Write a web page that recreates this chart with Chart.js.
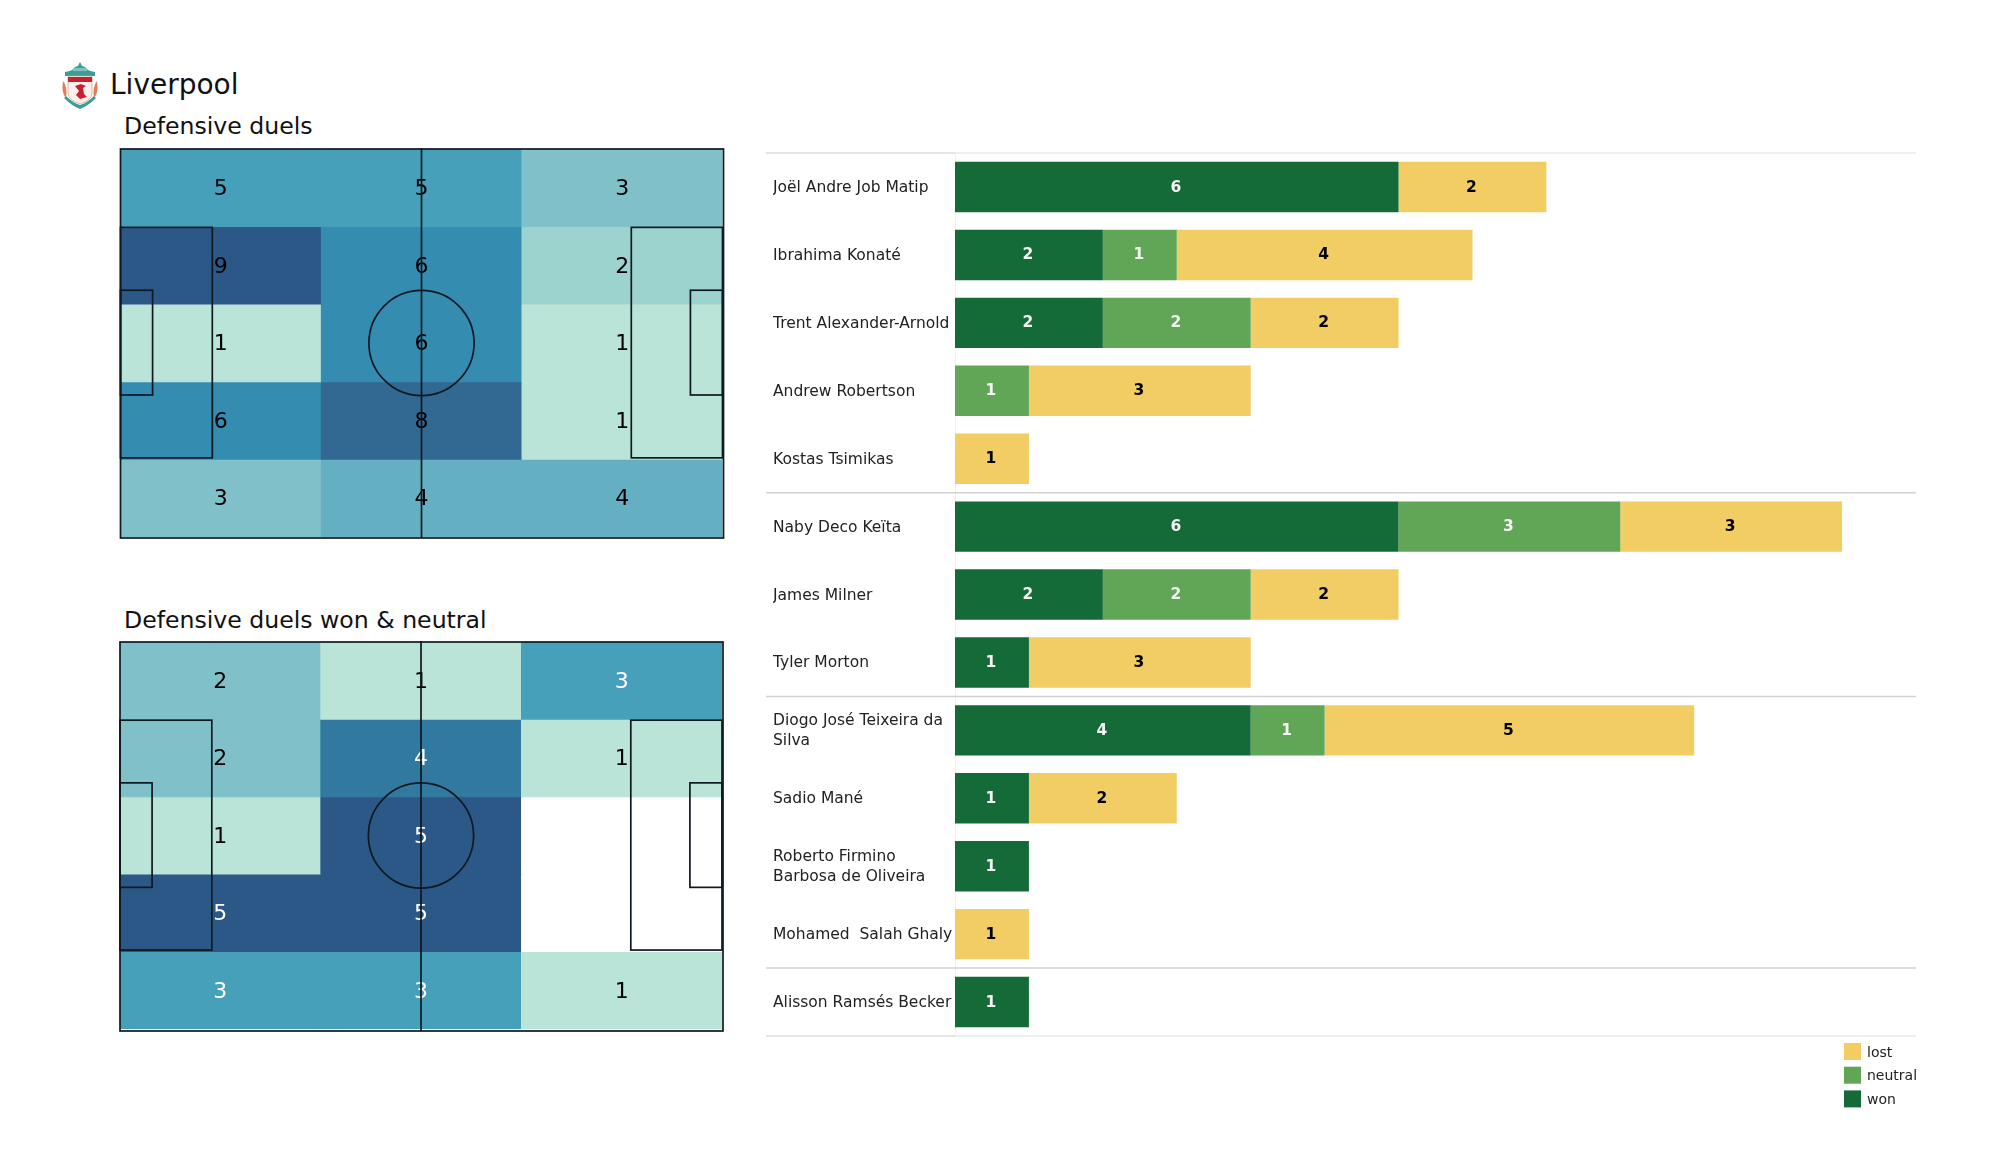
<!DOCTYPE html>
<html>
<head>
<meta charset="utf-8">
<title>Liverpool defensive duels</title>
<script src="https://cdn.jsdelivr.net/npm/chart.js@4"></script>
<style>
   html, body { margin: 0; padding: 0; background: #fff; }
   body { position: relative; width: 2000px; height: 1175px; overflow: hidden; font-family: "DejaVu Sans", sans-serif; color: #111; }
   canvas { position: absolute; }
   .txt { position: absolute; white-space: nowrap; line-height: 1; }
   #crest { position: absolute; left: 61px; top: 61px; }
</style>
</head>
<body>
<svg id="crest" width="38" height="49" viewBox="0 0 38 49">
   <path d="M4 15 L4 11 Q12 10 14 6 L17 5 L19 1 L21 5 L24 6 Q26 10 34 11 L34 15 Z" fill="#3a9d96"/>
   <rect x="12" y="7" width="14" height="3" fill="#7fc4bd"/>
   <path d="M2 20 Q7 26 5 37 Q0 32 2 20 Z" fill="#df7f5a"/>
   <path d="M36 20 Q31 26 33 37 Q38 32 36 20 Z" fill="#df7f5a"/>
   <path d="M7 15 H31 V32 Q31 39 19 43 Q7 39 7 32 Z" fill="#fbf1ec" stroke="#c8a27a" stroke-width="0.7"/>
   <rect x="7" y="16" width="24" height="5" fill="#c8202f"/>
   <path d="M14 25 L20 23 L25 25 L22 27 L23 33 L26 36 L19 38 L15 34 L18 30 Z" fill="#c8202f"/>
   <path d="M3 37 Q11 45 19 48 Q27 45 35 37 L33 35 Q26 42 19 44 Q12 42 5 35 Z" fill="#3a9d96"/>
</svg>
<div class="txt" style="left:110px;top:71px;font-size:28px">Liverpool</div>
<div class="txt" style="left:124px;top:115px;font-size:23.6px">Defensive duels</div>
<div class="txt" style="left:124px;top:609px;font-size:23.6px">Defensive duels won &amp; neutral</div>

<canvas id="pitchAll" width="640" height="410" style="left:100px;top:140px"></canvas>
<canvas id="pitchWon" width="640" height="410" style="left:100px;top:632px"></canvas>
<canvas id="bars" width="1240" height="1000" style="left:760px;top:140px"></canvas>

<script>
const zones = ['left', 'centre', 'right'];

// rows run from the top of the pitch to the bottom
const duelsAll = [
   [5, 5, 3],
   [9, 6, 2],
   [1, 6, 1],
   [6, 8, 1],
   [3, 4, 4]
];
const duelsWonNeutral = [
   [2, 1, 3],
   [2, 4, 1],
   [1, 5, 0],
   [5, 5, 0],
   [3, 3, 1]
];

const players = [
   'Joël Andre Job Matip',
   'Ibrahima Konaté',
   'Trent Alexander-Arnold',
   'Andrew Robertson',
   'Kostas Tsimikas',
   'Naby Deco Keïta',
   'James Milner',
   'Tyler Morton',
   ['Diogo José Teixeira da', 'Silva'],
   'Sadio Mané',
   ['Roberto Firmino', 'Barbosa de Oliveira'],
   'Mohamed  Salah Ghaly',
   'Alisson Ramsés Becker'
];
const won     = [6, 2, 2, 0, 0, 6, 2, 1, 4, 1, 1, 0, 1];
const neutral = [0, 1, 2, 1, 0, 3, 2, 0, 1, 0, 0, 0, 0];
const lost    = [2, 4, 2, 3, 1, 3, 2, 3, 5, 2, 0, 1, 0];

// row boundaries that get a rule: top, defenders, midfield, attack, keeper
const groupEdges = [0, 5, 8, 12, 13];

const WON_COLOR = '#156b38';
const NEUTRAL_COLOR = '#60a656';
const LOST_COLOR = '#f1cd64';
const FONT = '"DejaVu Sans", sans-serif';

const heatStops = ['#bbe4d9', '#9dd3ce', '#80c1c9', '#65afc2', '#46a0b9', '#348cb0', '#32799f', '#316993', '#2b5886'];

function heatColor(v, max) {
   if (v === 0) return '#ffffff';
   const pos = (v - 1) / (max - 1) * (heatStops.length - 1);
   return heatStops[Math.round(pos)];
}

// numbers in the cells, then the pitch markings on top
const pitchPlugin = {
   id: 'pitch',
   afterDatasetsDraw(chart, args, opts) {
      const c = chart.ctx;
      const a = chart.chartArea;
      const w = a.right - a.left;
      const h = a.bottom - a.top;

      c.save();
      c.font = '22px ' + FONT;
      c.textAlign = 'center';
      c.textBaseline = 'middle';
      chart.data.datasets.forEach((ds, i) => {
         const meta = chart.getDatasetMeta(i);
         ds.counts.forEach((v, j) => {
            if (v === 0) return;
            const bar = meta.data[j];
            c.fillStyle = v >= opts.whiteFrom ? '#ffffff' : '#000000';
            c.fillText(v, bar.x, (bar.y + bar.base) / 2 + 1.5);
         });
      });

      c.strokeStyle = '#101820';
      c.lineWidth = 1.7;
      const box = (x0, x1, y0, y1) => {
         c.strokeRect(a.left + x0 * w, a.top + y0 * h, (x1 - x0) * w, (y1 - y0) * h);
      };
      c.strokeRect(a.left, a.top, w + 1, h + opts.extraBottom);
      box(0, 0.1525, 0.202, 0.796);
      box(0, 0.0533, 0.364, 0.634);
      box(1 - 0.1515, 1, 0.202, 0.796);
      box(1 - 0.0533, 1, 0.364, 0.634);
      c.beginPath();
      c.moveTo(a.left + w / 2, a.top - 1);
      c.lineTo(a.left + w / 2, a.bottom + opts.extraBottom);
      c.stroke();
      c.beginPath();
      c.arc(a.left + w / 2, a.top + h / 2, 52.6, 0, Math.PI * 2);
      c.stroke();
      c.restore();
   }
};

function pitchChart(id, rows, padding, whiteFrom, extraBottom) {
   const max = Math.max(...rows.flat());
   return new Chart(document.getElementById(id), {
      type: 'bar',
      data: {
         labels: zones,
         datasets: rows.map(row => ({
            counts: row,
            data: row.map(() => 1),
            backgroundColor: row.map(v => heatColor(v, max)),
            borderWidth: 0,
            barPercentage: 1,
            categoryPercentage: 1
         }))
      },
      options: {
         responsive: false,
         animation: false,
         layout: { padding: padding },
         scales: {
            x: { stacked: true, display: false },
            y: { stacked: true, display: false, reverse: true, min: 0, max: rows.length }
         },
         plugins: {
            legend: { display: false },
            tooltip: { enabled: false },
            pitch: { whiteFrom: whiteFrom, extraBottom: extraBottom }
         }
      },
      plugins: [pitchPlugin]
   });
}

pitchChart('pitchAll', duelsAll, { left: 20.5, right: 17.5, top: 9, bottom: 13 }, 99, 1);
pitchChart('pitchWon', duelsWonNeutral, { left: 20, right: 18, top: 10, bottom: 13 }, 3, 2);

// group rules run under the name column as well
const rulesPlugin = {
   id: 'rules',
   beforeDatasetsDraw(chart) {
      const c = chart.ctx;
      const a = chart.chartArea;
      const y = chart.scales.y;
      const rowH = y.getPixelForValue(1) - y.getPixelForValue(0);
      c.save();
      groupEdges.forEach((edge, i) => {
         const py = y.getPixelForValue(0) + (edge - 0.5) * rowH;
         const outer = i === 0 || i === groupEdges.length - 1;
         c.lineWidth = 1.5;
         c.strokeStyle = outer ? '#dcdcdc' : '#d2d2d2';
         c.beginPath();
         c.moveTo(6, py);
         c.lineTo(a.left, py);
         c.stroke();
         c.strokeStyle = outer ? '#ebebeb' : '#d2d2d2';
         c.beginPath();
         c.moveTo(a.left, py);
         c.lineTo(a.right, py);
         c.stroke();
      });
      c.restore();
   }
};

const barLabelsPlugin = {
   id: 'barLabels',
   afterDatasetsDraw(chart) {
      const c = chart.ctx;
      c.save();
      c.font = 'bold 15.5px ' + FONT;
      c.textAlign = 'center';
      c.textBaseline = 'middle';
      chart.data.datasets.forEach((ds, i) => {
         chart.getDatasetMeta(i).data.forEach((bar, j) => {
            if (!ds.data[j]) return;
            c.fillStyle = ds.backgroundColor === LOST_COLOR ? '#000000' : '#f4f4f4';
            c.fillText(ds.data[j], (bar.x + bar.base) / 2 - 1, bar.y + 0.5);
         });
      });
      c.restore();
   }
};

const keyPlugin = {
   id: 'key',
   afterDraw(chart) {
      const c = chart.ctx;
      c.save();
      c.font = '14px ' + FONT;
      c.textBaseline = 'middle';
      chart.data.datasets.slice().reverse().forEach((ds, i) => {
         const top = 903 + i * 23.7;
         c.fillStyle = ds.backgroundColor;
         c.fillRect(1084, top, 17, 17);
         c.fillStyle = '#222222';
         c.fillText(ds.label, 1107, top + 10);
      });
      c.restore();
   }
};

new Chart(document.getElementById('bars'), {
   type: 'bar',
   data: {
      labels: players,
      datasets: [
         { label: 'won', data: won, backgroundColor: WON_COLOR },
         { label: 'neutral', data: neutral, backgroundColor: NEUTRAL_COLOR },
         { label: 'lost', data: lost, backgroundColor: LOST_COLOR }
      ]
   },
   options: {
      indexAxis: 'y',
      responsive: false,
      animation: false,
      barPercentage: 0.743,
      categoryPercentage: 1,
      layout: { padding: { left: 13, right: 84, top: 11.5, bottom: 104 } },
      scales: {
         x: { stacked: true, display: false, min: 0, max: 13 },
         y: {
            stacked: true,
            afterFit(scale) { scale.width = 182; },
            grid: { display: false },
            border: { color: '#f0f0f0', width: 1 },
            ticks: {
               autoSkip: false,
               crossAlign: 'far',
               color: '#222222',
               labelOffset: 1,
               font: { family: FONT, size: 15.5, lineHeight: 1.3 }
            }
         }
      },
      plugins: {
         legend: { display: false },
         tooltip: { enabled: false }
      }
   },
   plugins: [rulesPlugin, barLabelsPlugin, keyPlugin]
});
</script>
</body>
</html>
